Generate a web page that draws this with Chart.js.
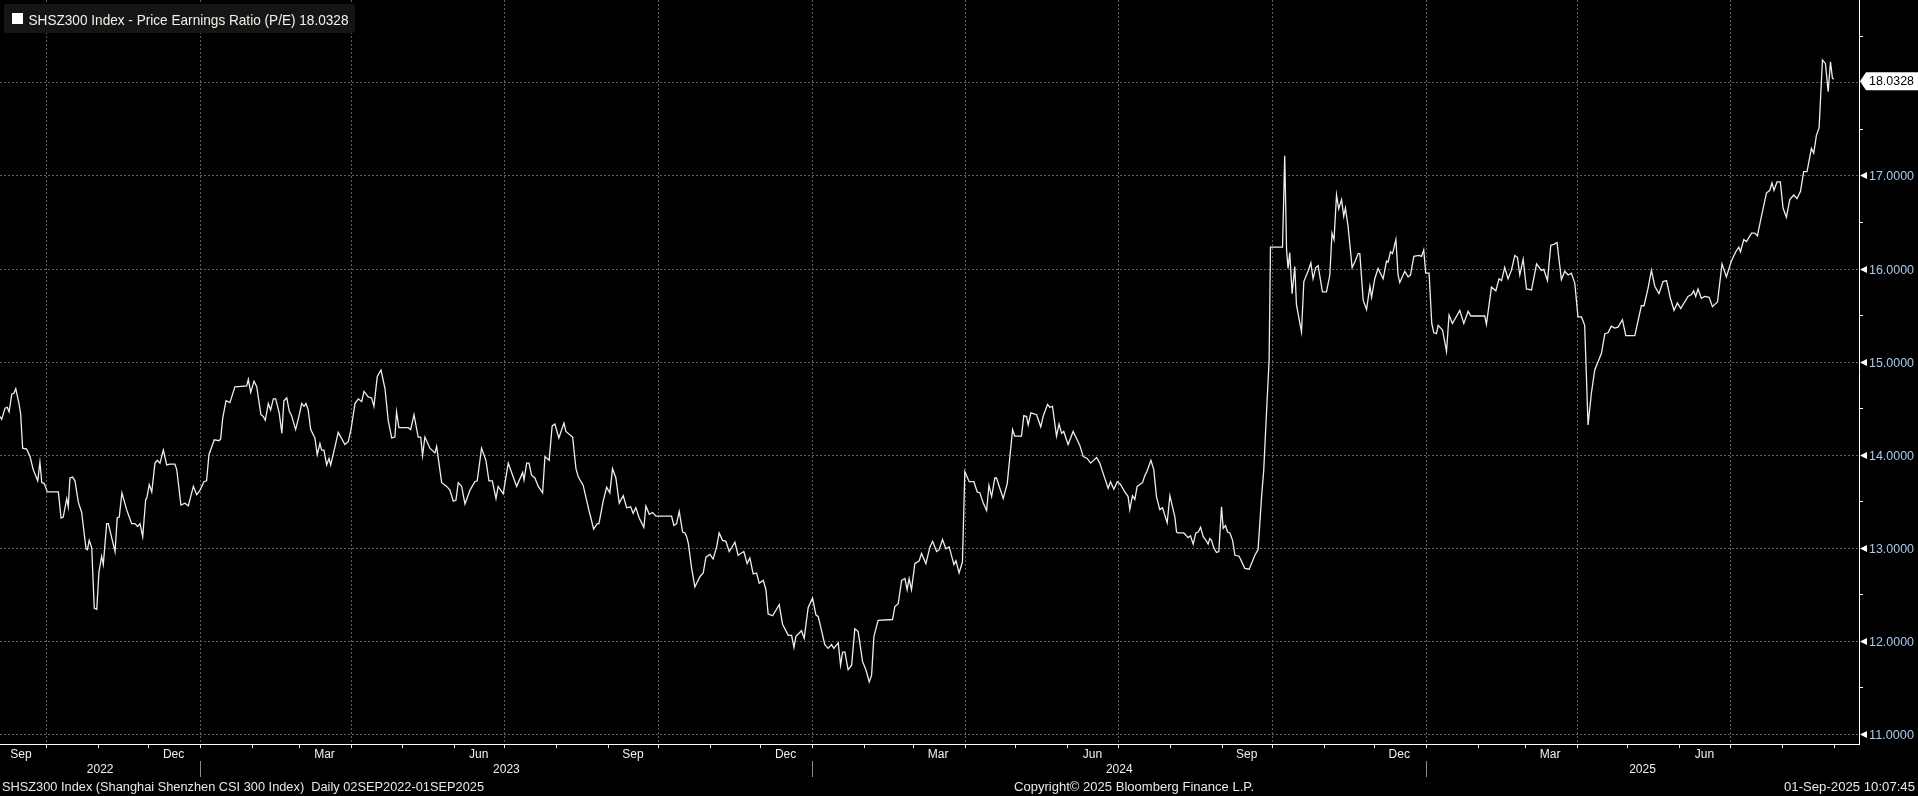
<!DOCTYPE html>
<html>
<head>
<meta charset="utf-8">
<title>SHSZ300 P/E</title>
<script src="https://cdn.jsdelivr.net/npm/chart.js@4.4.1/dist/chart.umd.min.js"></script>
<style>
  html, body { margin: 0; padding: 0; background: #000; overflow: hidden; }
  canvas { display: block; }
</style>
</head>
<body>
<canvas id="peChart" width="1918" height="796"></canvas>
<script>
// series starts 02-Sep-2022, x values are calendar days after that date
const startDate = [2022, 9, 2];
const dayOffsets = [
  1.5, 2.5, 4.5, 5.8, 6.9, 8.5, 9.8, 10.9, 12.8, 13.8, 15.0, 17.4, 19.4, 21.3, 24.0, 25.3, 26.4, 27.9, 29.7, 36.3,
  37.9, 39.2, 41.3, 42.2, 43.2, 44.8, 46.2, 48.2, 50.2, 52.8, 53.6, 54.7, 56.2, 57.7, 59.2, 60.5, 62.1, 63.1, 65.1, 66.1,
  70.1, 71.4, 72.6, 74.2, 77.0, 80.0, 82.0, 83.6, 85.0, 86.6, 88.4, 89.0, 90.5, 92.0, 93.9, 95.3, 96.9, 98.9, 100.9, 102.9,
  105.8, 106.9, 109.4, 111.8, 113.8, 116.8, 118.8, 120.8, 123.1, 124.7, 126.1, 129.3, 132.1, 133.1, 134.3, 136.3, 138.6, 141.6, 148.6, 149.6,
  151.0, 153.0, 154.6, 157.1, 158.5, 159.7, 161.5, 162.9, 164.5, 165.9, 168.0, 169.6, 170.8, 172.5, 174.0, 175.4, 177.8, 180.0, 181.4, 182.8,
  184.0, 185.3, 186.8, 189.3, 190.7, 192.3, 193.3, 194.7, 196.3, 197.7, 198.7, 200.8, 203.2, 207.2, 209.2, 210.8, 212.2, 213.2, 215.2, 217.2,
  218.6, 221.1, 223.1, 224.5, 226.5, 228.7, 231.1, 233.0, 235.1, 237.0, 238.0, 239.4, 245.0, 246.4, 248.4, 250.9, 252.4, 253.5, 254.9, 257.9,
  260.9, 261.9, 264.9, 267.9, 269.8, 271.8, 273.4, 274.8, 276.8, 278.8, 281.8, 284.7, 286.1, 288.7, 291.3, 293.1, 295.1, 297.3, 298.6, 301.6,
  304.6, 309.6, 313.2, 314.0, 315.6, 317.0, 318.5, 320.5, 322.5, 325.1, 326.5, 329.0, 330.8, 332.4, 334.8, 337.8, 339.0, 343.0, 345.0, 346.4,
  349.3, 352.9, 353.9, 355.5, 357.7, 358.7, 361.2, 363.3, 365.2, 366.8, 368.8, 370.8, 373.2, 375.2, 377.6, 379.1, 380.7, 382.7, 385.5, 386.7,
  388.7, 390.7, 392.7, 402.0, 403.4, 405.0, 406.6, 408.6, 410.0, 411.0, 412.0, 414.0, 415.9, 418.9, 420.9, 422.5, 424.9, 426.8, 428.9, 430.4,
  432.4, 434.4, 436.4, 439.8, 441.7, 445.1, 447.1, 448.7, 450.7, 452.7, 454.3, 456.7, 458.3, 459.6, 462.3, 466.2, 468.2, 471.6, 473.6, 475.0,
  476.2, 479.5, 481.1, 483.5, 486.1, 488.1, 489.5, 493.4, 495.4, 497.4, 498.8, 501.4, 502.8, 504.0, 505.4, 507.3, 509.4, 511.3, 513.3, 515.9,
  517.9, 519.9, 521.3, 522.7, 525.2, 533.8, 535.2, 537.2, 539.2, 541.2, 542.5, 543.7, 545.1, 547.1, 549.7, 551.1, 553.7, 556.1, 557.7, 560.1,
  561.6, 563.6, 565.6, 567.6, 570.4, 571.6, 573.5, 575.5, 576.9, 579.5, 582.3, 584.3, 585.9, 587.9, 589.9, 591.3, 592.9, 594.8, 595.8, 597.8,
  599.8, 602.2, 605.4, 606.7, 610.7, 612.1, 613.7, 614.7, 616.3, 619.7, 622.2, 623.6, 626.2, 627.6, 629.2, 631.6, 633.1, 634.6, 635.9, 638.5,
  641.5, 643.9, 645.5, 647.5, 649.9, 651.9, 655.5, 657.4, 659.4, 662.4, 663.8, 665.8, 667.8, 669.8, 672.3, 674.3, 675.3, 676.9, 678.3, 679.7,
  681.3, 682.9, 684.3, 685.3, 687.9, 689.6, 691.2, 693.2, 694.8, 697.6, 699.2, 702.2, 703.2, 704.1, 707.5, 710.1, 711.5, 713.1, 714.7, 716.1,
  717.5, 719.1, 721.1, 722.0, 723.0, 724.0, 725.4, 727.0, 728.4, 730.0, 731.0, 732.4, 733.6, 735.0, 736.6, 738.0, 740.5, 743.9, 746.5, 749.9,
  751.8, 753.9, 755.2, 756.8, 758.4, 759.2, 766.4, 767.7, 768.8, 769.7, 770.7, 772.1, 773.7, 774.7, 777.7, 779.1, 781.6, 783.3, 784.6, 786.2,
  787.6, 790.2, 792.6, 794.6, 795.9, 797.1, 798.6, 799.9, 801.6, 802.9, 803.9, 805.5, 807.9, 809.5, 811.5, 812.5, 814.5, 816.5, 818.5, 819.5,
  821.4, 823.4, 826.4, 828.4, 829.4, 830.8, 832.0, 834.0, 835.3, 836.3, 839.3, 841.3, 842.7, 844.7, 847.8, 849.3, 850.6, 851.8, 853.8, 855.4,
  856.6, 858.2, 859.2, 860.2, 861.8, 864.2, 865.7, 867.7, 872.1, 874.5, 877.1, 878.7, 887.0, 888.0, 891.0, 893.6, 895.5, 897.0, 898.9, 900.9,
  902.9, 904.9, 906.5, 907.9, 909.9, 911.9, 914.9, 917.9, 920.8, 922.2, 924.4, 926.4, 928.2, 930.1, 932.7, 934.7, 936.7, 938.7, 940.7, 942.6,
  944.7, 946.6, 948.6, 950.6, 952.6, 956.6, 958.6, 960.5, 962.5, 964.5, 966.5, 969.1, 971.1, 976.5, 980.4, 982.0, 984.4, 986.4, 988.4, 990.9,
  993.3, 995.4, 997.7, 999.9, 1001.9, 1003.9, 1008.2, 1010.3, 1011.6, 1012.8, 1014.2, 1016.2, 1018.2, 1020.8, 1022.8, 1025.8, 1028.5, 1031.1, 1034.1, 1036.7,
  1038.5, 1039.5, 1041.5, 1043.1, 1046.1, 1048.0, 1049.6, 1052.0, 1055.0, 1057.0, 1058.3, 1059.5, 1061.3, 1063.3, 1064.9, 1066.9, 1068.9, 1071.3, 1073.2, 1075.3,
  1077.2, 1079.2, 1081.8, 1083.2, 1084.8, 1086.4, 1088.4, 1090.2, 1091.8, 1093.2, 1094.3, 1095.0
];
const peValues = [
  14.41, 14.38, 14.50, 14.51, 14.46, 14.65, 14.66, 14.71, 14.55, 14.44, 14.07, 14.06, 13.98, 13.84, 13.72, 13.92, 13.70, 13.69, 13.60, 13.60,
  13.32, 13.33, 13.53, 13.44, 13.75, 13.76, 13.72, 13.49, 13.38, 12.99, 12.98, 13.08, 13.00, 12.35, 12.34, 12.74, 12.91, 12.82, 13.26, 13.26,
  12.96, 13.32, 13.33, 13.59, 13.41, 13.26, 13.26, 13.23, 13.26, 13.12, 13.52, 13.53, 13.68, 13.60, 13.91, 13.94, 13.91, 14.05, 13.89, 13.90,
  13.90, 13.84, 13.46, 13.48, 13.45, 13.66, 13.57, 13.62, 13.71, 13.72, 14.00, 14.16, 14.15, 14.17, 14.39, 14.58, 14.56, 14.73, 14.74, 14.81,
  14.67, 14.79, 14.73, 14.43, 14.41, 14.37, 14.55, 14.48, 14.60, 14.60, 14.45, 14.23, 14.58, 14.61, 14.47, 14.42, 14.27, 14.43, 14.55, 14.52,
  14.55, 14.48, 14.27, 14.18, 14.00, 14.12, 14.05, 14.05, 13.89, 13.96, 13.89, 14.05, 14.24, 14.11, 14.14, 14.27, 14.43, 14.55, 14.60, 14.57,
  14.68, 14.62, 14.61, 14.52, 14.84, 14.91, 14.71, 14.37, 14.18, 14.19, 14.46, 14.29, 14.29, 14.27, 14.43, 14.19, 14.19, 13.99, 14.19, 14.07,
  14.02, 14.09, 13.70, 13.66, 13.62, 13.50, 13.51, 13.70, 13.66, 13.47, 13.62, 13.71, 13.72, 14.07, 13.94, 13.72, 13.72, 13.53, 13.66, 13.58,
  13.91, 13.66, 13.81, 13.73, 13.91, 13.91, 13.78, 13.75, 13.66, 13.59, 13.98, 13.94, 14.31, 14.33, 14.18, 14.34, 14.25, 14.19, 13.85, 13.76,
  13.67, 13.39, 13.32, 13.20, 13.26, 13.26, 13.50, 13.65, 13.59, 13.85, 13.75, 13.48, 13.56, 13.43, 13.44, 13.37, 13.43, 13.32, 13.22, 13.45,
  13.36, 13.38, 13.34, 13.34, 13.24, 13.26, 13.39, 13.17, 13.16, 13.12, 13.05, 12.78, 12.58, 12.69, 12.73, 12.90, 12.93, 12.88, 13.01, 13.16,
  13.08, 13.07, 12.96, 13.06, 12.92, 12.96, 12.83, 12.89, 12.72, 12.73, 12.62, 12.65, 12.55, 12.29, 12.27, 12.39, 12.18, 12.06, 12.06, 11.93,
  12.05, 12.11, 12.03, 12.36, 12.46, 12.28, 12.26, 11.96, 11.92, 11.96, 11.92, 11.98, 11.74, 11.88, 11.88, 11.69, 11.74, 12.13, 12.10, 11.78,
  11.69, 11.56, 11.63, 12.05, 12.22, 12.23, 12.37, 12.40, 12.65, 12.67, 12.55, 12.67, 12.55, 12.83, 12.86, 12.94, 12.83, 13.01, 13.07, 12.96,
  12.98, 13.09, 12.99, 13.01, 12.82, 12.86, 12.73, 12.85, 13.82, 13.71, 13.71, 13.60, 13.59, 13.48, 13.40, 13.67, 13.55, 13.75, 13.75, 13.64,
  13.53, 13.69, 14.27, 14.20, 14.20, 14.42, 14.41, 14.32, 14.45, 14.43, 14.30, 14.41, 14.54, 14.51, 14.52, 14.20, 14.33, 14.23, 14.25, 14.11,
  14.25, 14.16, 14.10, 13.98, 13.96, 13.91, 13.97, 13.91, 13.80, 13.64, 13.71, 13.63, 13.71, 13.68, 13.60, 13.55, 13.41, 13.56, 13.52, 13.66,
  13.68, 13.70, 13.78, 13.81, 13.94, 13.84, 13.55, 13.41, 13.43, 13.27, 13.56, 13.33, 13.17, 13.16, 13.16, 13.11, 13.13, 13.04, 13.16, 13.17,
  13.22, 13.12, 13.07, 13.04, 13.10, 13.08, 13.00, 12.95, 12.96, 13.44, 13.21, 13.24, 13.17, 13.16, 13.08, 12.92, 12.91, 12.78, 12.77, 12.92,
  12.98, 13.55, 13.84, 14.44, 15.02, 16.23, 16.23, 17.21, 16.20, 16.00, 16.17, 15.73, 16.02, 15.61, 15.32, 15.86, 15.97, 16.06, 15.89, 16.01,
  16.03, 15.75, 15.75, 15.93, 16.38, 16.31, 16.79, 16.64, 16.74, 16.56, 16.65, 16.45, 16.01, 16.07, 16.16, 16.16, 15.66, 15.56, 15.81, 15.69,
  15.89, 16.00, 15.89, 16.08, 16.07, 16.18, 16.16, 16.31, 15.93, 15.85, 15.97, 15.91, 15.93, 16.13, 16.14, 16.13, 16.20, 15.95, 15.95, 15.41,
  15.31, 15.30, 15.39, 15.37, 15.34, 15.11, 15.50, 15.41, 15.55, 15.41, 15.54, 15.49, 15.49, 15.40, 15.80, 15.76, 15.89, 15.87, 16.01, 15.89,
  15.98, 16.14, 16.12, 15.93, 16.10, 15.78, 15.77, 16.05, 15.98, 15.99, 15.87, 16.25, 16.26, 16.28, 15.88, 15.97, 15.93, 15.95, 15.84, 15.48,
  15.48, 15.39, 14.32, 14.66, 14.91, 15.09, 15.30, 15.31, 15.38, 15.36, 15.37, 15.45, 15.28, 15.28, 15.60, 15.60, 15.79, 15.98, 15.81, 15.73,
  15.86, 15.87, 15.68, 15.55, 15.63, 15.57, 15.70, 15.72, 15.76, 15.70, 15.78, 15.68, 15.70, 15.69, 15.59, 15.64, 16.05, 15.91, 16.08, 16.18,
  16.23, 16.18, 16.31, 16.29, 16.38, 16.38, 16.35, 16.56, 16.81, 16.84, 16.92, 16.84, 16.93, 16.93, 16.65, 16.55, 16.74, 16.79, 16.75, 16.83,
  17.04, 17.04, 17.29, 17.24, 17.43, 17.51, 18.24, 18.20, 17.90, 18.22, 18.05, 18.0328
];
const lastValue = 18.0328;
const yTicks = [11, 12, 13, 14, 15, 16, 17, 18];
const yHalfTicks = [11.5, 12.5, 13.5, 14.5, 15.5, 16.5, 17.5, 18.5];
const monthNames = ["Jan", "Feb", "Mar", "Apr", "May", "Jun", "Jul", "Aug", "Sep", "Oct", "Nov", "Dec"];
const labelMonths = [[2022, 9], [2022, 12], [2023, 3], [2023, 6], [2023, 9], [2023, 12],
  [2024, 3], [2024, 6], [2024, 9], [2024, 12], [2025, 3], [2025, 6]];
const yearLabels = [2022, 2023, 2024, 2025];
const titleText = "SHSZ300 Index - Price Earnings Ratio (P/E) 18.0328";
const footLeft = "SHSZ300 Index (Shanghai Shenzhen CSI 300 Index)  Daily 02SEP2022-01SEP2025";
const footMid = "Copyright\u00A9 2025 Bloomberg Finance L.P.";
const footRight = "01-Sep-2025 10:07:45";

const FONT = '"Liberation Sans", Arial, sans-serif';
const t0 = Date.UTC(startDate[0], startDate[1] - 1, startDate[2]);
function dayOf(y, m, d) { return (Date.UTC(y, m - 1, d) - t0) / 86400000; }

// draw text, optionally squeezed to a given width
function drawText(ctx, str, x, y, align, size, color, width) {
  ctx.save();
  ctx.font = size + "px " + FONT;
  ctx.fillStyle = color;
  ctx.textBaseline = "middle";
  ctx.textAlign = "left";
  const w = ctx.measureText(str).width;
  const s = width ? width / w : 1;
  const left = align === "left" ? x : align === "right" ? x - w * s : x - w * s / 2;
  ctx.translate(left, y);
  ctx.scale(s, 1);
  ctx.fillText(str, 0, 0);
  ctx.restore();
}

function hLine(ctx, x1, x2, y) { ctx.beginPath(); ctx.moveTo(x1, y); ctx.lineTo(x2, y); ctx.stroke(); }
function vLine(ctx, x, y1, y2) { ctx.beginPath(); ctx.moveTo(x, y1); ctx.lineTo(x, y2); ctx.stroke(); }

const gridPlugin = {
  id: "bbgGrid",
  beforeDatasetsDraw(chart) {
    const { ctx, chartArea: a, scales: { x, y } } = chart;
    ctx.save();
    ctx.strokeStyle = "#5f5f5f";
    ctx.lineWidth = 1;
    ctx.setLineDash([2, 2]);
    yTicks.forEach(v => hLine(ctx, a.left, a.right, Math.round(y.getPixelForValue(v)) + 0.5));
    for (let yr = 2022, m = 10; ; m += 3) {
      if (m > 12) { m -= 12; yr++; }
      const d = dayOf(yr, m, 1);
      if (d > x.max) break;
      vLine(ctx, Math.round(x.getPixelForValue(d)) + 0.5, a.top, a.bottom);
    }
    ctx.restore();
  },
  afterDraw(chart) {
    const { ctx, chartArea: a, scales: { x, y } } = chart;
    ctx.save();
    // axis frame
    ctx.strokeStyle = "#ffffff";
    ctx.lineWidth = 1;
    vLine(ctx, a.right + 0.5, a.top, a.bottom + 1);
    hLine(ctx, a.left, a.right + 1, a.bottom + 0.5);

    // monthly ticks
    for (let yr = 2022, m = 10; ; m++) {
      if (m > 12) { m = 1; yr++; }
      const d = dayOf(yr, m, 1);
      if (d > x.max) break;
      vLine(ctx, Math.round(x.getPixelForValue(d)) + 0.5, a.bottom + 1, a.bottom + 4);
    }
    // month labels
    labelMonths.forEach(([yr, m]) => {
      const px = x.getPixelForValue(dayOf(yr, m, 16));
      drawText(ctx, monthNames[m - 1], px, a.bottom + 11, "center", 12, "#f0f0f0");
    });
    // year separators and labels
    ctx.strokeStyle = "#8c8c8c";
    yearLabels.forEach(yr => {
      const s = Math.max(a.left, x.getPixelForValue(dayOf(yr, 1, 1)));
      const e = Math.min(a.right, x.getPixelForValue(dayOf(yr + 1, 1, 1)));
      if (yr > yearLabels[0]) vLine(ctx, Math.round(s) + 0.5, a.bottom + 17, a.bottom + 33);
      drawText(ctx, String(yr), (s + e) / 2, a.bottom + 26, "center", 12, "#f0f0f0");
    });

    // right axis ticks and labels
    ctx.fillStyle = "#ffffff";
    ctx.strokeStyle = "#ffffff";
    yHalfTicks.forEach(v => hLine(ctx, a.right + 1, a.right + 4, Math.round(y.getPixelForValue(v)) + 0.5));
    const lastY = y.getPixelForValue(lastValue) + 2;
    yTicks.forEach(v => {
      const py = Math.round(y.getPixelForValue(v)) + 0.5;
      if (Math.abs(py - lastY) < 14) return;
      ctx.beginPath();
      ctx.moveTo(a.right + 1, py);
      ctx.lineTo(a.right + 8, py - 3.5);
      ctx.lineTo(a.right + 8, py + 3.5);
      ctx.closePath();
      ctx.fill();
      drawText(ctx, v.toFixed(4), a.right + 10, py + 1, "left", 13, "#a9c9ec", 45);
    });
    // last value tag
    ctx.beginPath();
    ctx.moveTo(a.right + 1, lastY);
    ctx.lineTo(a.right + 7, lastY - 9);
    ctx.lineTo(1918, lastY - 9);
    ctx.lineTo(1918, lastY + 9);
    ctx.lineTo(a.right + 7, lastY + 9);
    ctx.closePath();
    ctx.fill();
    drawText(ctx, lastValue.toFixed(4), a.right + 10, lastY, "left", 13, "#000000", 45);

    // legend box
    ctx.fillStyle = "#151515";
    ctx.beginPath();
    ctx.roundRect(4, 4, 351, 29, 3);
    ctx.fill();
    ctx.fillStyle = "#ffffff";
    ctx.fillRect(12, 13, 11, 11);
    drawText(ctx, titleText, 28.5, 20.5, "left", 15, "#f4f1e8", 320);

    // footer
    drawText(ctx, footLeft, 2, 788, "left", 12, "#e8e8e8", 482);
    drawText(ctx, footMid, 1134, 788, "center", 12, "#e8e8e8", 240);
    drawText(ctx, footRight, 1915, 788, "right", 12, "#e8e8e8", 131);
    ctx.restore();
  }
};

const ctx = document.getElementById("peChart");
new Chart(ctx, {
  type: "line",
  data: {
    datasets: [{
      label: "SHSZ300 Index - Price Earnings Ratio (P/E)",
      data: dayOffsets.map((d, i) => ({ x: d, y: peValues[i] })),
      borderColor: "#ededed",
      borderWidth: 1.3,
      pointRadius: 0,
      tension: 0,
      fill: false
    }]
  },
  options: {
    responsive: false,
    devicePixelRatio: 1,
    animation: false,
    parsing: false,
    normalized: true,
    layout: { padding: { left: 0, top: 0, right: 59, bottom: 52 } },
    plugins: { legend: { display: false }, tooltip: { enabled: false } },
    scales: {
      x: { type: "linear", display: false, min: 1.49, max: 1110.2 },
      y: { type: "linear", display: false, min: 10.893, max: 18.884 }
    }
  },
  plugins: [gridPlugin]
});
</script>
</body>
</html>
